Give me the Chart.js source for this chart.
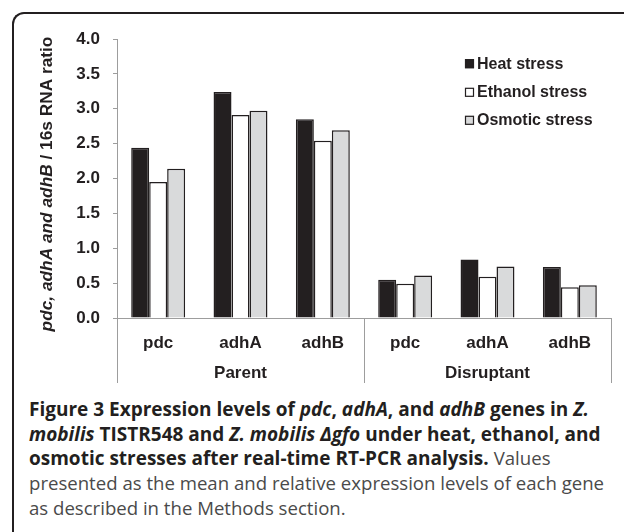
<!DOCTYPE html>
<html lang="en">
<head>
  <meta charset="UTF-8" />
  <title>Figure 3</title>
  <script src="https://cdn.jsdelivr.net/npm/chart.js"></script>
  <style>
    html, body {
      margin: 0;
      padding: 0;
      background: #fff;
      overflow: hidden;
    }
    .panel {
      position: absolute;
      left: 12px;
      top: 12px;
      width: 700px;
      height: 600px;
      border-top: 2px solid #231f20;
      border-left: 2px solid #231f20;
      border-top-left-radius: 12px;
    }
    .chart-box {
      position: absolute;
      left: 0;
      top: 0;
      width: 624px;
      height: 395px;
    }
    .caption {
      position: absolute;
      left: 29px;
      top: 397px;
      font-family: "Open Sans", sans-serif;
      font-size: 19px;
      line-height: 24.7px;
      color: #4a4a4a;
      white-space: nowrap;
    }
    .caption b { color: #231f20; }
    .caption .plain { font-size: 18.6px; }
  </style>
</head>
<body>
  <div class="panel"></div>
  <div class="chart-box"><canvas id="chart" width="624" height="395"></canvas></div>
  <div class="caption">
    <b>Figure 3 Expression levels of <i>pdc</i>, <i>adhA</i>, and <i>adhB</i> genes in <i>Z.</i></b><br>
    <b><i>mobilis</i> TISTR548 and <i>Z. mobilis Δgfo</i> under heat, ethanol, and</b><br>
    <b>osmotic stresses after real-time RT-PCR analysis.</b> <span class="plain">Values</span><br>
    <span class="plain">presented as the mean and relative expression levels of each gene</span><br>
    <span class="plain">as described in the Methods section.</span>
  </div>

  <script>
    const genes = ['pdc', 'adhA', 'adhB', 'pdc', 'adhA', 'adhB'];
    const strains = ['Parent', 'Disruptant'];
    const heatStress = [2.44, 3.24, 2.85, 0.55, 0.84, 0.73];
    const ethanolStress = [1.95, 2.91, 2.54, 0.49, 0.59, 0.44];
    const osmoticStress = [2.14, 2.97, 2.69, 0.61, 0.74, 0.47];
    const yMin = 0, yMax = 4, yStep = 0.5;

    const ink = '#231f20';
    const axisGrey = '#9d9d9d';
    const font = 'Liberation Sans, Arial, sans-serif';

    // extra drawing: axis title, strain labels, separators, legend
    const extras = {
      id: 'extras',
      afterDraw(chart) {
        const ctx = chart.ctx;
        const area = chart.chartArea;
        const x = chart.scales.x;
        ctx.save();

        // separators under the axis
        const mid = (x.getPixelForValue(2) + x.getPixelForValue(3)) / 2;
        ctx.strokeStyle = axisGrey;
        ctx.lineWidth = 1;
        [area.left, mid, area.right].forEach(px => {
          ctx.beginPath();
          ctx.moveTo(Math.round(px) + 0.5, area.bottom);
          ctx.lineTo(Math.round(px) + 0.5, area.bottom + 65);
          ctx.stroke();
        });

        // strain labels
        ctx.fillStyle = ink;
        ctx.font = 'bold 17px ' + font;
        ctx.textAlign = 'center';
        ctx.textBaseline = 'middle';
        ctx.fillText(strains[0], (area.left + mid) / 2, area.bottom + 55);
        ctx.fillText(strains[1], (mid + area.right) / 2, area.bottom + 55);

        // y axis title, mixed italic
        const partA = 'pdc, adhA and adhB';
        const partB = ' / 16s RNA ratio';
        const fA = 'italic bold 17.3px ' + font;
        const fB = 'bold 17.3px ' + font;
        ctx.font = fA;
        const wA = ctx.measureText(partA).width;
        ctx.font = fB;
        const wB = ctx.measureText(partB).width;
        ctx.translate(47, 184);
        ctx.rotate(-Math.PI / 2);
        ctx.textAlign = 'left';
        let start = -(wA + wB) / 2;
        ctx.font = fA;
        ctx.fillText(partA, start, 0);
        ctx.font = fB;
        ctx.fillText(partB, start + wA, 0);
        ctx.setTransform(1, 0, 0, 1, 0, 0);

        // legend
        const lx = area.left + 348;
        const rows = [63.7, 92.3, 120.3];
        chart.data.datasets.forEach((ds, i) => {
          const cy = rows[i];
          ctx.fillStyle = ds.backgroundColor;
          ctx.fillRect(lx, cy - 4.5, 9, 9);
          ctx.strokeStyle = ink;
          ctx.lineWidth = 1.2;
          ctx.strokeRect(lx + 0.5, cy - 4, 8, 8);
          ctx.fillStyle = ink;
          ctx.font = 'bold 16px ' + font;
          ctx.textAlign = 'left';
          ctx.fillText(ds.label, lx + 12, cy + 0.5);
        });
        ctx.restore();
      }
    };

    new Chart(document.getElementById('chart'), {
      type: 'bar',
      data: {
        labels: genes,
        datasets: [
          { label: 'Heat stress', data: heatStress, backgroundColor: ink },
          { label: 'Ethanol stress', data: ethanolStress, backgroundColor: '#ffffff' },
          { label: 'Osmotic stress', data: osmoticStress, backgroundColor: '#d9dadb' }
        ]
      },
      options: {
        responsive: false,
        animation: false,
        layout: { padding: { top: 39, right: 13, left: 0, bottom: 0 } },
        datasets: {
          bar: {
            borderColor: ink,
            borderWidth: 1.5,
            barPercentage: 1,
            categoryPercentage: 0.655
          }
        },
        plugins: {
          legend: { display: false },
          tooltip: { enabled: false }
        },
        scales: {
          x: {
            grid: { display: false },
            border: { display: true, color: axisGrey, width: 1 },
            ticks: {
              color: ink,
              padding: 7,
              font: { family: font, size: 17, weight: 'bold' }
            },
            afterFit(scale) { scale.height = 77; }
          },
          y: {
            min: yMin,
            max: yMax,
            grid: { drawOnChartArea: false, tickLength: 4, color: axisGrey },
            border: { display: true, color: axisGrey, width: 1 },
            ticks: {
              stepSize: yStep,
              color: ink,
              padding: 13,
              font: { family: font, size: 17, weight: 'bold' },
              callback: v => v.toFixed(1)
            },
            afterFit(scale) { scale.width = 117; }
          }
        }
      },
      plugins: [extras]
    });
  </script>
</body>
</html>
